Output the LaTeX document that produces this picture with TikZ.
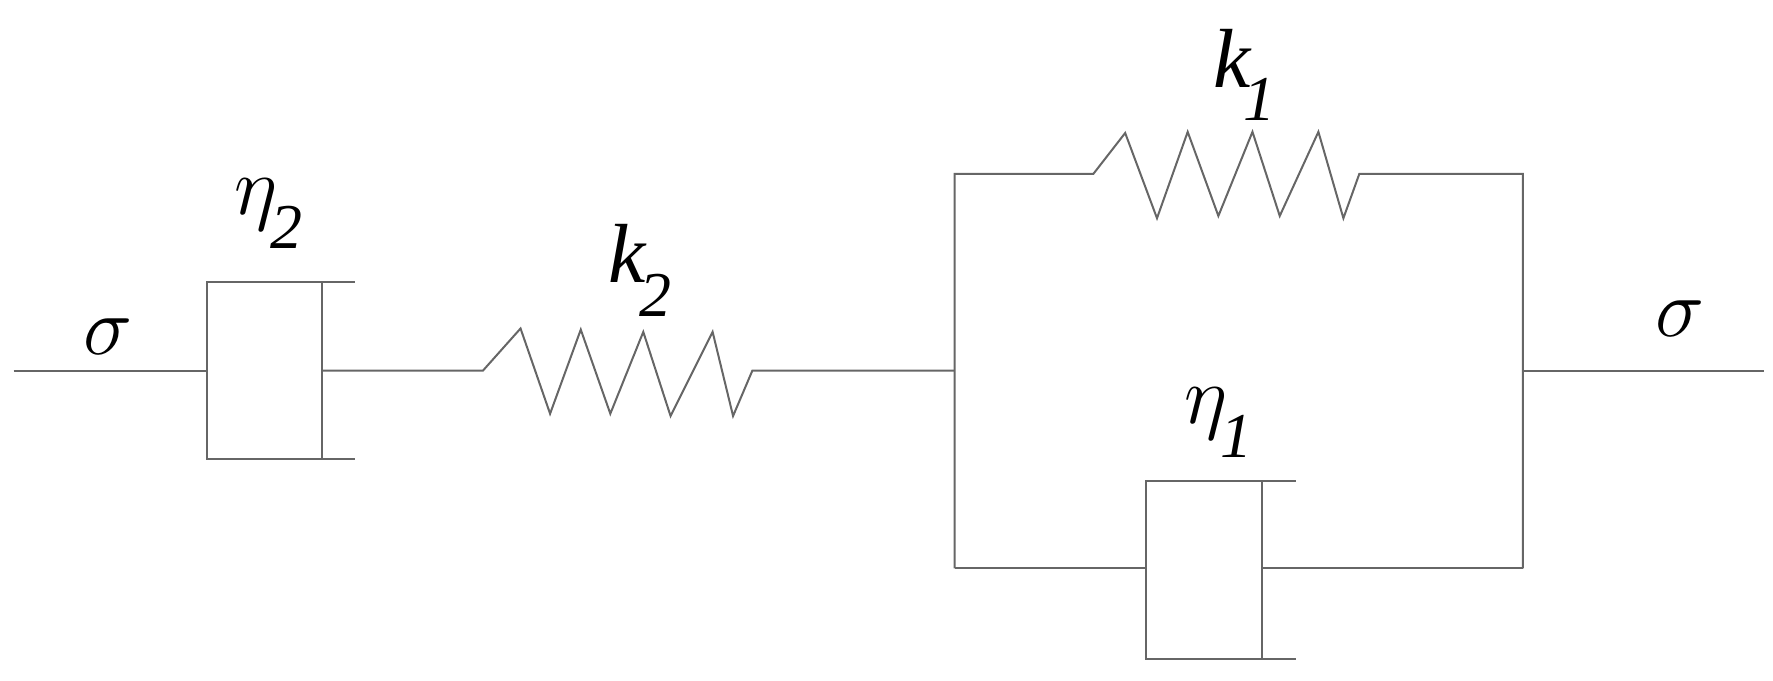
\documentclass[tikz,border=0pt]{standalone}
\usepackage{fontspec}
\setmainfont{Liberation Serif}
\newcommand{\mysub}[1]{\kern-0.08em\raisebox{-0.4em}{\fontsize{16}{16}\selectfont\itshape #1}}
\begin{document}
\begin{tikzpicture}[x=0.1mm,y=-0.1mm,
  ln/.style={draw=black!60,line width=0.5pt},
  lab/.style={inner sep=0pt,font=\fontsize{21}{24}\selectfont\itshape}]
\useasboundingbox (0,0) rectangle (1560,599);
\coordinate (a0) at (12,326);
\coordinate (a1) at (182,326);
\draw[ln] (a0) -- (a1);
\draw[ln] (283,248) -- (182,248) -- (182,404) -- (283,404);
\draw[ln] (283,248) -- (312,248);
\draw[ln] (283,404) -- (312,404);
\draw[ln] (283,248) -- (283,404);
\draw[ln] (283,326) -- (425,326) -- (458,289) -- (484,364) -- (511,290) -- (537,364) -- (566,292) -- (590,366) -- (627,292) -- (645,366) -- (662,326) -- (840,326);
\draw[ln] (840,500) -- (840,153) -- (962,153) -- (990,117) -- (1018,192) -- (1045,116) -- (1072,190) -- (1102,116) -- (1126,190) -- (1160,116) -- (1182,192) -- (1196,153) -- (1340,153) -- (1340,500);
\draw[ln] (840,500) -- (1008,500);
\draw[ln] (1110,500) -- (1340,500);
\draw[ln] (1110,423) -- (1008,423) -- (1008,580) -- (1110,580);
\draw[ln] (1110,423) -- (1140,423);
\draw[ln] (1110,580) -- (1140,580);
\draw[ln] (1110,423) -- (1110,580);
\draw[ln] (1340,326) -- (1552,326);
\node[lab] (s1) at (95,296) {$\sigma$};
\node[lab] (s2) at (1478,280) {$\sigma$};
\node[lab] (e2) at (236,188) {$\eta$\mysub{2}};
\node[lab] (k2) at (563,238) {k\mysub{2}};
\node[lab] (k1) at (1095,66) {k\mysub{1}};
\node[lab] (e1) at (1072,372) {$\eta$\mysub{1}};
\end{tikzpicture}
\end{document}
